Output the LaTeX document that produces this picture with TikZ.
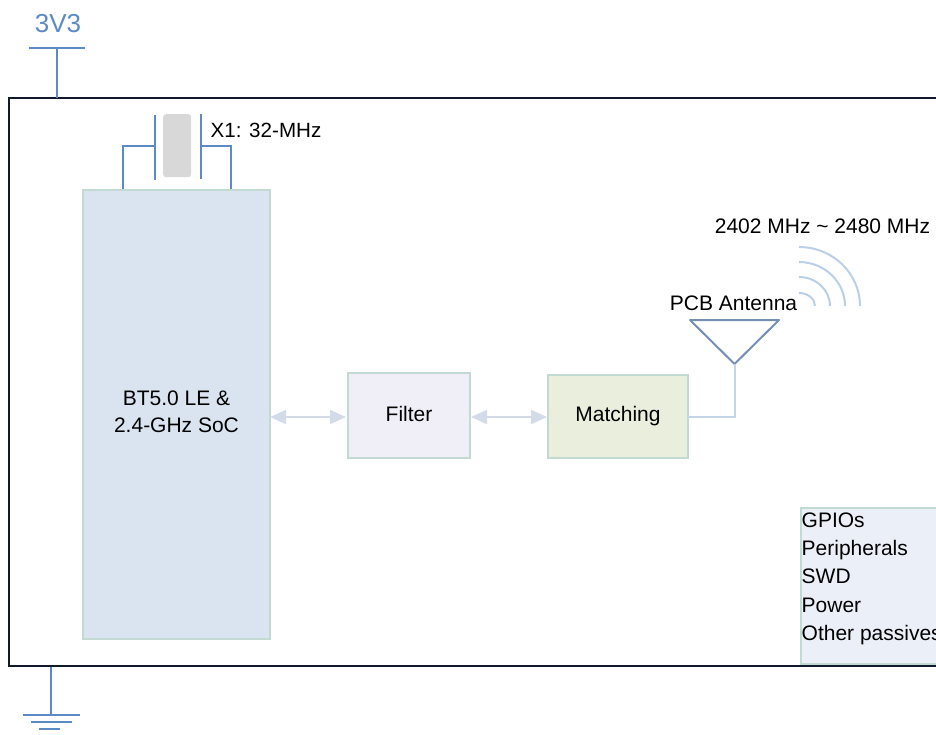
\documentclass[tikz,border=0pt]{standalone}
\usepackage{fontspec}
\setmainfont{Liberation Sans}
\usetikzlibrary{arrows.meta,calc}
\definecolor{wire}{HTML}{5B8AC4}
\definecolor{frameC}{HTML}{111A28}
\definecolor{edgeG}{HTML}{C3DAD2}
\definecolor{socF}{HTML}{DAE4F0}
\definecolor{filF}{HTML}{F0EEF6}
\definecolor{matF}{HTML}{EAEFDD}
\definecolor{gpioF}{HTML}{EBF0F8}
\definecolor{arrC}{HTML}{D3DBE8}
\definecolor{antC}{HTML}{7590B2}
\definecolor{feedC}{HTML}{C6D5E6}
\definecolor{waveC}{HTML}{BBCFE6}
\definecolor{xtalF}{HTML}{D8D8D8}
\newcommand{\pxfont}[1]{\fontsize{#1}{#1}\selectfont}
\tikzset{
  x=1pt,y=-1pt,
  wirel/.style={draw=wire,line width=2pt},
  block/.style={draw=edgeG,line width=2pt,inner sep=0pt,outer sep=0pt,anchor=north west,align=center,font=\pxfont{21}},
  txt/.style={inner sep=0pt,text=black,font=\pxfont{21}},
  biarrow/.style={draw=arrC,line width=2pt,{Triangle[width=14pt,length=16pt]}-{Triangle[width=14pt,length=16pt]}},
  wave/.style={draw=waveC,line width=2pt},
}
\begin{document}
\begin{tikzpicture}
\useasboundingbox (0,0) rectangle (936,734);
\clip (0,0) rectangle (936,734);
% main frame
\node[draw=frameC,line width=2pt,inner sep=0pt,outer sep=0pt,anchor=north west,minimum width=1000pt,minimum height=568pt] (board) at (9,98) {};
% 3V3
\node[inner sep=0pt,text=wire,font=\pxfont{26}] (vlabel) at (58,24) {3V3};
\coordinate (vl) at (29,47.5); \coordinate (vr) at (85,47.5);
\coordinate (vm) at (57,47.5); \coordinate (vb) at (57,98);
\draw[wirel] (vl) -- (vr);
\draw[wirel] (vm) -- (vb);
% GND
\coordinate (gt) at (51,667); \coordinate (gb) at (51,714.5);
\draw[wirel] (gt) -- (gb);
\coordinate (g1l) at (23,714.5); \coordinate (g1r) at (80,714.5);
\coordinate (g2l) at (31,721.5); \coordinate (g2r) at (72,721.5);
\coordinate (g3l) at (39,728.5); \coordinate (g3r) at (60,728.5);
\draw[wirel] (g1l) -- (g1r);
\draw[wirel] (g2l) -- (g2r);
\draw[wirel] (g3l) -- (g3r);
% blocks
\node[block,fill=socF,minimum width=187pt,minimum height=449pt] (soc) at (83,190) {};
\node[txt,align=center] (soclabel) at (176.5,412) {BT5.0 LE \&\\[6pt]2.4-GHz SoC};
\node[block,fill=filF,minimum width=122pt,minimum height=85pt] (filter) at (348,373) {\raisebox{3.5pt}{Filter}};
\node[block,fill=matF,minimum width=140pt,minimum height=83pt] (match) at (548,375) {\raisebox{3.5pt}{Matching}};
\node[block,fill=gpioF,minimum width=160pt,minimum height=156pt] (gpio) at (801,508) {};
\foreach \n/\t/\y in {a/GPIOs/527.3,b/Peripherals/555.6,c/SWD/583.8,d/Power/612,e/Other passives/640.3}
  \node[txt,anchor=base west] (g\n) at (801.5,\y) {\t};
% crystal
\node[fill=xtalF,draw=none,rounded corners=3pt,minimum width=28pt,minimum height=63pt,inner sep=0pt,anchor=north west] (xtal) at (163,114) {};
\coordinate (pl1) at (155,115); \coordinate (pl2) at (155,179.5);
\coordinate (pr1) at (200.5,114); \coordinate (pr2) at (200.5,179);
\draw[wirel] (pl1) -- (pl2);
\draw[wirel] (pr1) -- (pr2);
\coordinate (ljoin) at (155,146); \coordinate (rjoin) at (200.5,146);
\draw[wirel] (ljoin) -| (123,189);
\draw[wirel] (rjoin) -| (231,189);
\node[txt,anchor=west,font=\pxfont{20.6}] (xlabel) at (210.5,130) {X1: 32-MHz};
% arrows
\coordinate (a1l) at (270,417); \coordinate (a1r) at (346,417);
\coordinate (a2l) at (471,417); \coordinate (a2r) at (547,417);
\draw[biarrow] (a1l) -- (a1r);
\draw[biarrow] (a2l) -- (a2r);
% antenna
\coordinate (t1) at (690,320); \coordinate (t2) at (779,320); \coordinate (t3) at (734.5,364);
\draw[draw=antC,line width=2pt,line join=round] (t1) -- (t2) -- (t3) -- cycle;
\draw[draw=feedC,line width=2pt] (match.east |- 0,417) -| (t3);
\node[txt,anchor=center] (pcb) at (733.5,303.5) {PCB Antenna};
\node[txt,anchor=center] (freq) at (822.5,226.5) {2402 MHz \textasciitilde{} 2480 MHz};
% waves
\draw[wave] (799,247) arc[start angle=-90,end angle=0,x radius=61,y radius=59];
\draw[wave] (799,262) arc[start angle=-90,end angle=0,x radius=46,y radius=44];
\draw[wave] (799,277) arc[start angle=-90,end angle=0,x radius=31,y radius=29];
\draw[wave] (799,293) arc[start angle=-90,end angle=0,x radius=16,y radius=13];
\end{tikzpicture}
\end{document}
